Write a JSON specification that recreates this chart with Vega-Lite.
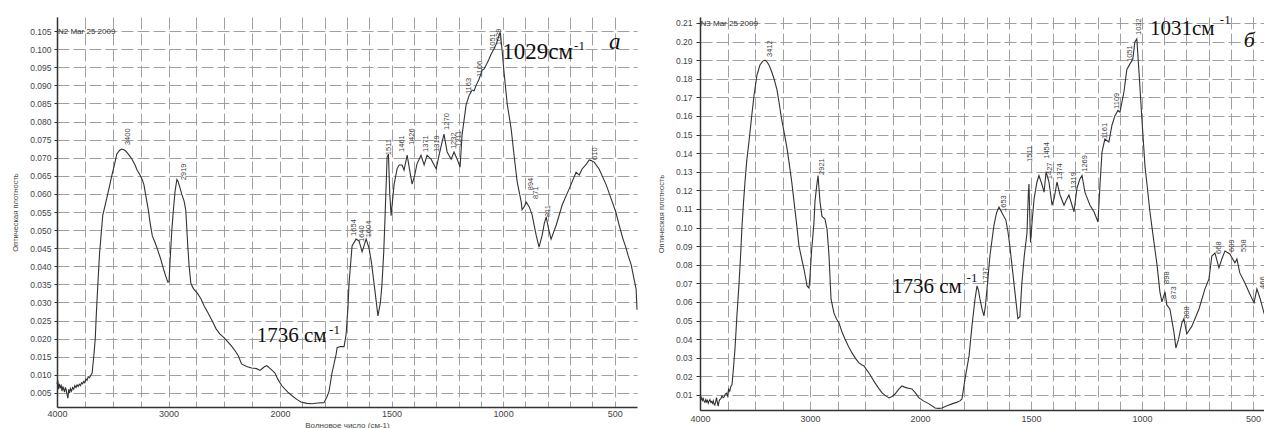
{
"$schema": "https://vega.github.io/schema/vega-lite/v6.json",
"padding": {"left": 11, "top": 13, "right": 0, "bottom": 0},
"background": "white",
"spacing": 17,
"datasets": {
"specA": [
{"wn":4000,"a":0.0075},{"wn":3993,"a":0.0085},{"wn":3985,"a":0.006},{"wn":3978,"a":0.0075},{"wn":3970,"a":0.0065},{"wn":3962,"a":0.007},{"wn":3955,"a":0.0055},{"wn":3947,"a":0.0068},{"wn":3940,"a":0.006},{"wn":3932,"a":0.0052},{"wn":3925,"a":0.0065},{"wn":3917,"a":0.0058},{"wn":3910,"a":0.0045},{"wn":3902,"a":0.0035},{"wn":3895,"a":0.006},{"wn":3887,"a":0.005},{"wn":3880,"a":0.0062},{"wn":3870,"a":0.0055},{"wn":3860,"a":0.0065},{"wn":3850,"a":0.006},{"wn":3840,"a":0.007},{"wn":3830,"a":0.0065},{"wn":3820,"a":0.0072},{"wn":3810,"a":0.0068},{"wn":3800,"a":0.0074},{"wn":3790,"a":0.007},{"wn":3780,"a":0.0078},{"wn":3770,"a":0.0075},{"wn":3760,"a":0.0082},{"wn":3750,"a":0.0078},{"wn":3740,"a":0.0088},{"wn":3730,"a":0.0085},{"wn":3720,"a":0.0095},{"wn":3709,"a":0.0092},{"wn":3685,"a":0.0105},{"wn":3670,"a":0.0152},{"wn":3657,"a":0.0199},{"wn":3648,"a":0.0263},{"wn":3633,"a":0.0354},{"wn":3618,"a":0.0437},{"wn":3603,"a":0.0492},{"wn":3590,"a":0.054},{"wn":3555,"a":0.0586},{"wn":3530,"a":0.062},{"wn":3509,"a":0.065},{"wn":3485,"a":0.068},{"wn":3464,"a":0.071},{"wn":3440,"a":0.072},{"wn":3420,"a":0.0724},{"wn":3400,"a":0.0722},{"wn":3382,"a":0.0718},{"wn":3355,"a":0.0708},{"wn":3327,"a":0.0696},{"wn":3300,"a":0.068},{"wn":3282,"a":0.0666},{"wn":3260,"a":0.0655},{"wn":3236,"a":0.064},{"wn":3220,"a":0.0625},{"wn":3209,"a":0.0605},{"wn":3195,"a":0.058},{"wn":3182,"a":0.0558},{"wn":3165,"a":0.052},{"wn":3145,"a":0.0484},{"wn":3120,"a":0.0465},{"wn":3100,"a":0.0448},{"wn":3070,"a":0.042},{"wn":3045,"a":0.0393},{"wn":3020,"a":0.0368},{"wn":3005,"a":0.0356},{"wn":2995,"a":0.0358},{"wn":2985,"a":0.042},{"wn":2970,"a":0.05},{"wn":2955,"a":0.056},{"wn":2940,"a":0.061},{"wn":2925,"a":0.064},{"wn":2915,"a":0.0635},{"wn":2900,"a":0.062},{"wn":2882,"a":0.06},{"wn":2860,"a":0.058},{"wn":2845,"a":0.0555},{"wn":2835,"a":0.05},{"wn":2827,"a":0.0455},{"wn":2815,"a":0.04},{"wn":2800,"a":0.0354},{"wn":2785,"a":0.0343},{"wn":2773,"a":0.0337},{"wn":2740,"a":0.0325},{"wn":2709,"a":0.031},{"wn":2680,"a":0.029},{"wn":2645,"a":0.0271},{"wn":2610,"a":0.025},{"wn":2573,"a":0.0227},{"wn":2540,"a":0.0213},{"wn":2500,"a":0.0202},{"wn":2470,"a":0.0192},{"wn":2436,"a":0.018},{"wn":2400,"a":0.0165},{"wn":2373,"a":0.0152},{"wn":2345,"a":0.013},{"wn":2300,"a":0.0123},{"wn":2255,"a":0.0119},{"wn":2210,"a":0.0117},{"wn":2180,"a":0.0112},{"wn":2164,"a":0.0116},{"wn":2140,"a":0.0122},{"wn":2118,"a":0.0125},{"wn":2090,"a":0.0118},{"wn":2070,"a":0.0112},{"wn":2045,"a":0.0105},{"wn":2020,"a":0.0088},{"wn":1991,"a":0.0069},{"wn":1965,"a":0.0052},{"wn":1946,"a":0.0042},{"wn":1925,"a":0.0032},{"wn":1906,"a":0.0025},{"wn":1880,"a":0.0021},{"wn":1857,"a":0.002},{"wn":1830,"a":0.0022},{"wn":1803,"a":0.0023},{"wn":1789,"a":0.004},{"wn":1780,"a":0.0055},{"wn":1767,"a":0.0105},{"wn":1749,"a":0.0155},{"wn":1744,"a":0.0175},{"wn":1730,"a":0.0178},{"wn":1713,"a":0.0178},{"wn":1704,"a":0.021},{"wn":1695,"a":0.029},{"wn":1691,"a":0.035},{"wn":1677,"a":0.0456},{"wn":1659,"a":0.0475},{"wn":1646,"a":0.047},{"wn":1632,"a":0.044},{"wn":1614,"a":0.0475},{"wn":1601,"a":0.045},{"wn":1590,"a":0.041},{"wn":1578,"a":0.035},{"wn":1561,"a":0.0263},{"wn":1550,"a":0.03},{"wn":1543,"a":0.035},{"wn":1535,"a":0.044},{"wn":1529,"a":0.054},{"wn":1520,"a":0.0702},{"wn":1514,"a":0.071},{"wn":1508,"a":0.06},{"wn":1502,"a":0.054},{"wn":1489,"a":0.0625},{"wn":1475,"a":0.067},{"wn":1466,"a":0.068},{"wn":1453,"a":0.068},{"wn":1444,"a":0.0666},{"wn":1430,"a":0.0707},{"wn":1420,"a":0.067},{"wn":1408,"a":0.0627},{"wn":1397,"a":0.065},{"wn":1386,"a":0.0683},{"wn":1368,"a":0.0707},{"wn":1354,"a":0.068},{"wn":1341,"a":0.0707},{"wn":1323,"a":0.0696},{"wn":1309,"a":0.068},{"wn":1300,"a":0.0669},{"wn":1287,"a":0.0707},{"wn":1275,"a":0.074},{"wn":1265,"a":0.0765},{"wn":1251,"a":0.0716},{"wn":1233,"a":0.0696},{"wn":1220,"a":0.0716},{"wn":1206,"a":0.0696},{"wn":1193,"a":0.0674},{"wn":1184,"a":0.0763},{"wn":1166,"a":0.0846},{"wn":1152,"a":0.0873},{"wn":1139,"a":0.0887},{"wn":1130,"a":0.0885},{"wn":1121,"a":0.09},{"wn":1108,"a":0.0917},{"wn":1094,"a":0.0942},{"wn":1086,"a":0.0945},{"wn":1076,"a":0.0956},{"wn":1065,"a":0.097},{"wn":1054,"a":0.0986},{"wn":1042,"a":0.1},{"wn":1031,"a":0.1014},{"wn":1020,"a":0.1035},{"wn":1013,"a":0.1047},{"wn":1005,"a":0.1},{"wn":996,"a":0.0937},{"wn":982,"a":0.085},{"wn":964,"a":0.078},{"wn":951,"a":0.0707},{"wn":937,"a":0.0633},{"wn":919,"a":0.0578},{"wn":915,"a":0.0556},{"wn":905,"a":0.0565},{"wn":897,"a":0.0578},{"wn":883,"a":0.0564},{"wn":870,"a":0.0542},{"wn":860,"a":0.051},{"wn":852,"a":0.0486},{"wn":839,"a":0.0453},{"wn":825,"a":0.0486},{"wn":815,"a":0.052},{"wn":807,"a":0.0536},{"wn":795,"a":0.05},{"wn":785,"a":0.0475},{"wn":762,"a":0.0514},{"wn":735,"a":0.057},{"wn":704,"a":0.0614},{"wn":673,"a":0.066},{"wn":659,"a":0.0652},{"wn":646,"a":0.0669},{"wn":630,"a":0.068},{"wn":614,"a":0.0694},{"wn":605,"a":0.0692},{"wn":592,"a":0.0688},{"wn":570,"a":0.0669},{"wn":538,"a":0.0625},{"wn":511,"a":0.0578},{"wn":495,"a":0.055},{"wn":480,"a":0.0514},{"wn":465,"a":0.048},{"wn":448,"a":0.0448},{"wn":440,"a":0.043},{"wn":426,"a":0.0404},{"wn":415,"a":0.037},{"wn":404,"a":0.0337},{"wn":400,"a":0.028}
],
"specB": [
{"wn":4000,"a":0.009},{"wn":3992,"a":0.0075},{"wn":3985,"a":0.0085},{"wn":3977,"a":0.007},{"wn":3970,"a":0.008},{"wn":3962,"a":0.0065},{"wn":3955,"a":0.006},{"wn":3947,"a":0.0075},{"wn":3940,"a":0.0062},{"wn":3932,"a":0.007},{"wn":3925,"a":0.0055},{"wn":3917,"a":0.0068},{"wn":3910,"a":0.0075},{"wn":3902,"a":0.006},{"wn":3895,"a":0.0065},{"wn":3887,"a":0.0055},{"wn":3880,"a":0.0068},{"wn":3872,"a":0.005},{"wn":3865,"a":0.0045},{"wn":3857,"a":0.0065},{"wn":3850,"a":0.0085},{"wn":3842,"a":0.006},{"wn":3835,"a":0.004},{"wn":3827,"a":0.0065},{"wn":3820,"a":0.0075},{"wn":3810,"a":0.008},{"wn":3800,"a":0.0095},{"wn":3790,"a":0.0085},{"wn":3780,"a":0.009},{"wn":3770,"a":0.0105},{"wn":3760,"a":0.011},{"wn":3750,"a":0.0095},{"wn":3740,"a":0.013},{"wn":3730,"a":0.012},{"wn":3720,"a":0.0145},{"wn":3709,"a":0.0155},{"wn":3695,"a":0.025},{"wn":3682,"a":0.0347},{"wn":3665,"a":0.052},{"wn":3645,"a":0.07},{"wn":3630,"a":0.086},{"wn":3618,"a":0.101},{"wn":3605,"a":0.113},{"wn":3591,"a":0.1245},{"wn":3575,"a":0.136},{"wn":3555,"a":0.146},{"wn":3530,"a":0.16},{"wn":3509,"a":0.171},{"wn":3482,"a":0.182},{"wn":3455,"a":0.1874},{"wn":3430,"a":0.1895},{"wn":3409,"a":0.19},{"wn":3390,"a":0.189},{"wn":3373,"a":0.1874},{"wn":3350,"a":0.184},{"wn":3327,"a":0.18},{"wn":3300,"a":0.174},{"wn":3282,"a":0.1675},{"wn":3260,"a":0.159},{"wn":3236,"a":0.1514},{"wn":3210,"a":0.143},{"wn":3191,"a":0.1353},{"wn":3165,"a":0.124},{"wn":3145,"a":0.1138},{"wn":3120,"a":0.101},{"wn":3100,"a":0.09},{"wn":3075,"a":0.083},{"wn":3055,"a":0.0777},{"wn":3040,"a":0.073},{"wn":3027,"a":0.0686},{"wn":3009,"a":0.0675},{"wn":3000,"a":0.074},{"wn":2985,"a":0.088},{"wn":2964,"a":0.1025},{"wn":2955,"a":0.1138},{"wn":2940,"a":0.122},{"wn":2927,"a":0.128},{"wn":2918,"a":0.121},{"wn":2909,"a":0.1138},{"wn":2891,"a":0.106},{"wn":2864,"a":0.1046},{"wn":2845,"a":0.099},{"wn":2827,"a":0.0847},{"wn":2809,"a":0.0616},{"wn":2782,"a":0.054},{"wn":2760,"a":0.051},{"wn":2736,"a":0.0487},{"wn":2710,"a":0.044},{"wn":2682,"a":0.0401},{"wn":2650,"a":0.036},{"wn":2618,"a":0.0326},{"wn":2585,"a":0.0295},{"wn":2555,"a":0.0272},{"wn":2530,"a":0.0262},{"wn":2509,"a":0.0256},{"wn":2485,"a":0.0235},{"wn":2464,"a":0.0218},{"wn":2435,"a":0.019},{"wn":2409,"a":0.0165},{"wn":2375,"a":0.0135},{"wn":2345,"a":0.0111},{"wn":2310,"a":0.0095},{"wn":2282,"a":0.0084},{"wn":2255,"a":0.0092},{"wn":2227,"a":0.0105},{"wn":2195,"a":0.013},{"wn":2164,"a":0.0148},{"wn":2140,"a":0.0142},{"wn":2118,"a":0.0138},{"wn":2095,"a":0.0135},{"wn":2073,"a":0.0132},{"wn":2040,"a":0.011},{"wn":2009,"a":0.0084},{"wn":1985,"a":0.0068},{"wn":1959,"a":0.0052},{"wn":1932,"a":0.003},{"wn":1915,"a":0.0028},{"wn":1901,"a":0.003},{"wn":1878,"a":0.0042},{"wn":1856,"a":0.0052},{"wn":1835,"a":0.006},{"wn":1820,"a":0.0068},{"wn":1811,"a":0.0078},{"wn":1797,"a":0.0186},{"wn":1779,"a":0.031},{"wn":1766,"a":0.047},{"wn":1752,"a":0.0616},{"wn":1743,"a":0.0686},{"wn":1736,"a":0.066},{"wn":1730,"a":0.0616},{"wn":1720,"a":0.056},{"wn":1712,"a":0.0525},{"wn":1705,"a":0.058},{"wn":1698,"a":0.067},{"wn":1685,"a":0.0847},{"wn":1667,"a":0.101},{"wn":1655,"a":0.108},{"wn":1644,"a":0.111},{"wn":1631,"a":0.108},{"wn":1613,"a":0.104},{"wn":1604,"a":0.098},{"wn":1595,"a":0.09},{"wn":1584,"a":0.078},{"wn":1572,"a":0.065},{"wn":1559,"a":0.051},{"wn":1550,"a":0.052},{"wn":1541,"a":0.07},{"wn":1530,"a":0.085},{"wn":1518,"a":0.097},{"wn":1512,"a":0.118},{"wn":1509,"a":0.1234},{"wn":1505,"a":0.105},{"wn":1502,"a":0.092},{"wn":1495,"a":0.103},{"wn":1486,"a":0.1154},{"wn":1473,"a":0.1245},{"wn":1464,"a":0.128},{"wn":1450,"a":0.123},{"wn":1441,"a":0.119},{"wn":1432,"a":0.13},{"wn":1419,"a":0.1245},{"wn":1405,"a":0.112},{"wn":1395,"a":0.116},{"wn":1383,"a":0.1245},{"wn":1369,"a":0.1175},{"wn":1351,"a":0.112},{"wn":1340,"a":0.115},{"wn":1329,"a":0.1175},{"wn":1315,"a":0.112},{"wn":1306,"a":0.1085},{"wn":1293,"a":0.121},{"wn":1280,"a":0.126},{"wn":1270,"a":0.128},{"wn":1257,"a":0.119},{"wn":1234,"a":0.112},{"wn":1216,"a":0.1085},{"wn":1198,"a":0.103},{"wn":1189,"a":0.123},{"wn":1180,"a":0.1406},{"wn":1167,"a":0.1476},{"wn":1149,"a":0.146},{"wn":1135,"a":0.155},{"wn":1122,"a":0.16},{"wn":1108,"a":0.163},{"wn":1099,"a":0.162},{"wn":1081,"a":0.173},{"wn":1068,"a":0.185},{"wn":1054,"a":0.188},{"wn":1041,"a":0.1906},{"wn":1032,"a":0.1998},{"wn":1023,"a":0.2014},{"wn":1014,"a":0.185},{"wn":1000,"a":0.158},{"wn":986,"a":0.1326},{"wn":977,"a":0.123},{"wn":964,"a":0.1085},{"wn":946,"a":0.0923},{"wn":932,"a":0.0799},{"wn":919,"a":0.0654},{"wn":910,"a":0.06},{"wn":896,"a":0.0654},{"wn":888,"a":0.0584},{"wn":874,"a":0.0562},{"wn":856,"a":0.0439},{"wn":847,"a":0.0353},{"wn":835,"a":0.04},{"wn":820,"a":0.0487},{"wn":811,"a":0.051},{"wn":798,"a":0.0428},{"wn":775,"a":0.047},{"wn":743,"a":0.0562},{"wn":716,"a":0.067},{"wn":698,"a":0.0724},{"wn":685,"a":0.0847},{"wn":671,"a":0.0863},{"wn":653,"a":0.0783},{"wn":640,"a":0.0831},{"wn":626,"a":0.0874},{"wn":604,"a":0.0858},{"wn":581,"a":0.081},{"wn":572,"a":0.0831},{"wn":559,"a":0.0756},{"wn":536,"a":0.0702},{"wn":514,"a":0.0643},{"wn":495,"a":0.0595},{"wn":482,"a":0.067},{"wn":468,"a":0.062},{"wn":450,"a":0.054},{"wn":441,"a":0.051}
],
"peaksA": [
{"t":"3400","wn":3364,"a":0.0735},{"t":"2919","wn":2864,"a":0.0638},{"t":"1654","wn":1668,"a":0.0484},{"t":"1640","wn":1632,"a":0.0467},{"t":"1604","wn":1601,"a":0.048},{"t":"1511","wn":1511,"a":0.0707},{"t":"1461","wn":1453,"a":0.0716},{"t":"1426","wn":1408,"a":0.0735},{"t":"1371","wn":1345,"a":0.0716},{"t":"1319","wn":1296,"a":0.0716},{"t":"1270","wn":1251,"a":0.0777},{"t":"1232","wn":1220,"a":0.0724},{"t":"1211","wn":1197,"a":0.073},{"t":"1163","wn":1152,"a":0.0876},{"t":"1106","wn":1103,"a":0.0923},{"t":"1051","wn":1045,"a":0.0998},{"t":"1029","wn":1018,"a":0.1011},{"t":"894","wn":874,"a":0.061},{"t":"871","wn":852,"a":0.0586},{"t":"811","wn":798,"a":0.0536},{"t":"610","wn":587,"a":0.0694}
],
"peaksB": [
{"t":"3412","wn":3364,"a":0.1917},{"t":"2921","wn":2891,"a":0.1283},{"t":"1737","wn":1703,"a":0.0697},{"t":"1653","wn":1622,"a":0.1084},{"t":"1511","wn":1505,"a":0.1353},{"t":"1454","wn":1428,"a":0.137},{"t":"1427","wn":1414,"a":0.126},{"t":"1374","wn":1369,"a":0.1256},{"t":"1319","wn":1306,"a":0.1208},{"t":"1269","wn":1257,"a":0.13},{"t":"1161","wn":1167,"a":0.1476},{"t":"1109","wn":1113,"a":0.1638},{"t":"1051","wn":1054,"a":0.189},{"t":"1032","wn":1014,"a":0.2035},{"t":"898","wn":888,"a":0.0697},{"t":"873","wn":856,"a":0.0616},{"t":"808","wn":797,"a":0.0509},{"t":"668","wn":653,"a":0.0858},{"t":"609","wn":595,"a":0.0869},{"t":"558","wn":541,"a":0.0869},{"t":"466","wn":455,"a":0.067}
],
"notesA": [
{"k":"big1","t":"1029см","wn":1004,"a":0.0973},
{"k":"big2","t":"1736 см","wn":2209,"a":0.0191},
{"k":"sup","t":"-1","wn":682,"a":0.09975},
{"k":"sup","t":"-1","wn":1780,"a":0.0213},
{"k":"ital","t":"а","wn":525,"a":0.1},
{"k":"small","t":"N2 Mar 25  2009","wn":3991,"a":0.1042}
],
"notesB": [
{"k":"big1","t":"1031см","wn":964,"a":0.2035},
{"k":"big2","t":"1736 см","wn":2255,"a":0.0648},
{"k":"sup","t":"-1","wn":649,"a":0.2095},
{"k":"sup","t":"-1","wn":1790,"a":0.0708},
{"k":"ital","t":"б","wn":541,"a":0.197},
{"k":"small","t":"N3 Mar 25  2009","wn":3995,"a":0.2084}
]
},
"hconcat": [
{
"width": 580, "height": 390,
"encoding": {
"x": {"field": "wn", "type": "quantitative",
 "scale": {"domain": [4000, 2000, 400], "range": [0, 223, 580], "zero": false, "nice": false},
 "axis": {"values": [4000,3750,3500,3250,3000,2750,2500,2250,2000,1900,1800,1700,1600,1500,1400,1300,1200,1100,1000,900,800,700,600,500], "format": "d",
  "labelExpr": "indexof([4000,3000,2000,1500,1000,500], datum.value) >= 0 ? datum.label : ''",
  "title": "Волновое число (см-1)", "ticks": false, "labelPadding": 2, "labelFontSize": 9, "labelFlush": false, "labelOverlap": false,
  "titleFontSize": 8, "titlePadding": 3}},
"y": {"field": "a", "type": "quantitative",
 "scale": {"domain": [0.0011, 0.1089], "zero": false, "nice": false},
 "axis": {"values": [0.005,0.01,0.015,0.02,0.025,0.03,0.035,0.04,0.045,0.05,0.055,0.06,0.065,0.07,0.075,0.08,0.085,0.09,0.095,0.1,0.105], "format": ".3f",
  "title": "Оптическая плотность", "tickSize": 3, "labelPadding": 3, "labelFontSize": 8.5, "minExtent": 27, "maxExtent": 27,
  "titleFontSize": 7.5, "titlePadding": 11, "labelFlush": false}}
},
"layer": [
{"data": {"name": "specA"}, "mark": {"type": "line", "color": "#333333", "strokeWidth": 1.1}},
{"data": {"name": "peaksA"}, "mark": {"type": "text", "angle": 270, "align": "left", "baseline": "middle", "fontSize": 7.5, "color": "#444444"}, "encoding": {"text": {"field": "t"}}},
{"data": {"name": "notesA"}, "transform": [{"filter": "datum.k == 'big1'"}], "mark": {"type": "text", "align": "left", "baseline": "alphabetic", "font": "Liberation Serif", "fontSize": 23, "color": "#111111"}, "encoding": {"text": {"field": "t"}}},
{"data": {"name": "notesA"}, "transform": [{"filter": "datum.k == 'big2'"}], "mark": {"type": "text", "align": "left", "baseline": "alphabetic", "font": "Liberation Serif", "fontSize": 21, "color": "#111111"}, "encoding": {"text": {"field": "t"}}},
{"data": {"name": "notesA"}, "transform": [{"filter": "datum.k == 'sup'"}], "mark": {"type": "text", "align": "left", "baseline": "alphabetic", "font": "Liberation Serif", "fontSize": 13, "color": "#111111"}, "encoding": {"text": {"field": "t"}}},
{"data": {"name": "notesA"}, "transform": [{"filter": "datum.k == 'ital'"}], "mark": {"type": "text", "align": "left", "baseline": "alphabetic", "font": "Liberation Serif", "fontStyle": "italic", "fontSize": 23, "color": "#111111"}, "encoding": {"text": {"field": "t"}}},
{"data": {"name": "notesA"}, "transform": [{"filter": "datum.k == 'small'"}], "mark": {"type": "text", "align": "left", "baseline": "alphabetic", "fontSize": 8, "color": "#333333"}, "encoding": {"text": {"field": "t"}}}
]
},
{
"width": 566, "height": 393,
"encoding": {
"x": {"field": "wn", "type": "quantitative",
 "scale": {"domain": [4000, 2000, 441], "range": [0, 220, 566], "zero": false, "nice": false},
 "axis": {"values": [4000,3750,3500,3250,3000,2750,2500,2250,2000,1900,1800,1700,1600,1500,1400,1300,1200,1100,1000,900,800,700,600,500], "format": "d",
  "labelExpr": "indexof([4000,3000,2000,1500,1000,500], datum.value) >= 0 ? datum.label : ''",
  "title": "Волновое число (см-1)", "ticks": false, "labelPadding": 4, "labelFontSize": 9, "labelFlush": false, "labelOverlap": false,
  "titleFontSize": 8, "titlePadding": 3}},
"y": {"field": "a", "type": "quantitative",
 "scale": {"domain": [0.0019, 0.2132], "zero": false, "nice": false},
 "axis": {"values": [0.01,0.02,0.03,0.04,0.05,0.06,0.07,0.08,0.09,0.1,0.11,0.12,0.13,0.14,0.15,0.16,0.17,0.18,0.19,0.2,0.21], "format": ".2f",
  "title": "Оптическая плотность", "tickSize": 4, "labelPadding": 4, "labelFontSize": 8.5, "minExtent": 24, "maxExtent": 24,
  "titleFontSize": 7.5, "titlePadding": 11, "labelFlush": false}}
},
"layer": [
{"data": {"name": "specB"}, "mark": {"type": "line", "color": "#333333", "strokeWidth": 1.1}},
{"data": {"name": "peaksB"}, "mark": {"type": "text", "angle": 270, "align": "left", "baseline": "middle", "fontSize": 7.5, "color": "#444444"}, "encoding": {"text": {"field": "t"}}},
{"data": {"name": "notesB"}, "transform": [{"filter": "datum.k == 'big1'"}], "mark": {"type": "text", "align": "left", "baseline": "alphabetic", "font": "Liberation Serif", "fontSize": 21, "color": "#111111"}, "encoding": {"text": {"field": "t"}}},
{"data": {"name": "notesB"}, "transform": [{"filter": "datum.k == 'big2'"}], "mark": {"type": "text", "align": "left", "baseline": "alphabetic", "font": "Liberation Serif", "fontSize": 21, "color": "#111111"}, "encoding": {"text": {"field": "t"}}},
{"data": {"name": "notesB"}, "transform": [{"filter": "datum.k == 'sup'"}], "mark": {"type": "text", "align": "left", "baseline": "alphabetic", "font": "Liberation Serif", "fontSize": 13, "color": "#111111"}, "encoding": {"text": {"field": "t"}}},
{"data": {"name": "notesB"}, "transform": [{"filter": "datum.k == 'ital'"}], "mark": {"type": "text", "align": "left", "baseline": "alphabetic", "font": "Liberation Serif", "fontStyle": "italic", "fontSize": 22, "color": "#111111"}, "encoding": {"text": {"field": "t"}}},
{"data": {"name": "notesB"}, "transform": [{"filter": "datum.k == 'small'"}], "mark": {"type": "text", "align": "left", "baseline": "alphabetic", "fontSize": 8, "color": "#333333"}, "encoding": {"text": {"field": "t"}}}
]
}
],
"config": {
"view": {"stroke": null},
"font": "Liberation Sans",
"axis": {"labelColor": "#444444", "titleColor": "#444444", "titleFontWeight": "normal", "domainColor": "#333333", "domainWidth": 1.5, "tickColor": "#333333",
 "labelFont": "Liberation Sans", "titleFont": "Liberation Sans", "grid": true, "gridColor": "#a0a0a0", "gridDash": [12, 4], "gridWidth": 1}
}
}
